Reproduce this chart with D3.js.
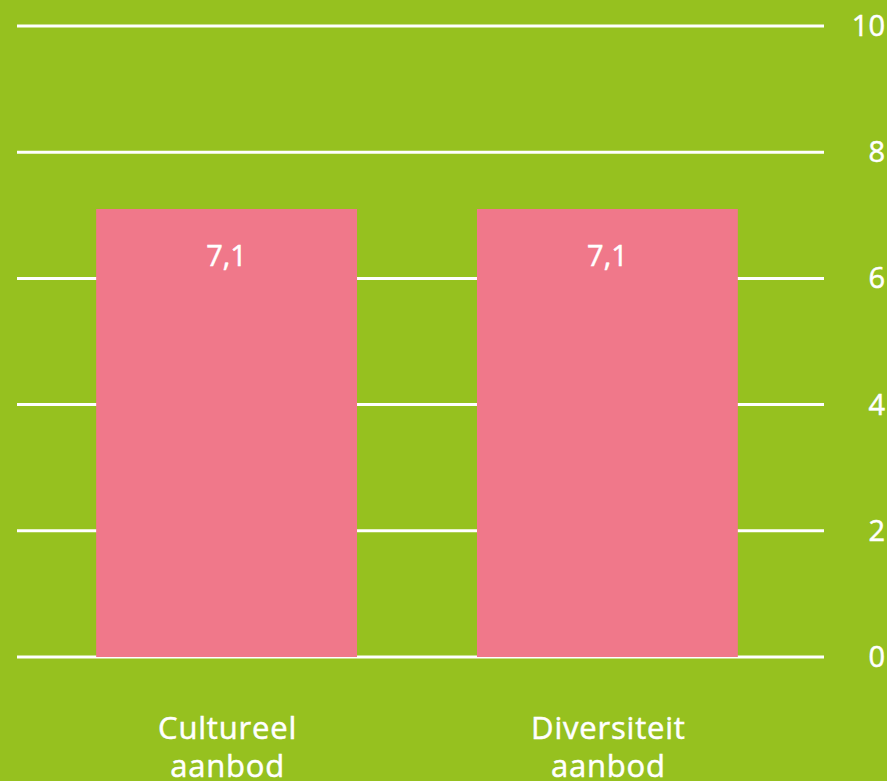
<!DOCTYPE html>
<html><head><meta charset="utf-8">
<script src="https://cdn.jsdelivr.net/npm/d3@7"></script>
<style>html,body{margin:0;padding:0;background:#96c11f;}svg{display:block;}</style>
</head><body><svg id="c" width="887" height="781"></svg>
<script>
const categories = [["Cultureel","aanbod"],["Diversiteit","aanbod"]];
const values = [7.1, 7.1];
const valueLabels = ["7,1","7,1"];
const ticks = [0,2,4,6,8,10];

const svg = d3.select("#c");
const W = 887, H = 781;
svg.append("rect").attr("width",W).attr("height",H).attr("fill","#96c11f");
const font = "'Open Sans', Roboto, sans-serif";
const y = d3.scaleLinear().domain([0,10]).range([657,26]);
const x = d3.scaleBand().domain(d3.range(categories.length)).range([20,814]).paddingInner(0.315).paddingOuter(0.2);

const grid = svg.append("g");
grid.selectAll("line").data(ticks).join("line")
  .attr("x1",17).attr("x2",824).attr("y1",d=>y(d)).attr("y2",d=>y(d))
  .attr("stroke","#fff").attr("stroke-width",3);

svg.append("g").selectAll("rect").data(values).join("rect")
  .attr("x",(d,i)=>x(i)).attr("width",x.bandwidth())
  .attr("y",d=>y(d)).attr("height",d=>y(0)-y(d)).attr("fill","#f0788a");

svg.append("g").selectAll("text").data(values).join("text")
  .attr("x",(d,i)=>x(i)+x.bandwidth()/2).attr("y",d=>y(d)+57)
  .attr("text-anchor","middle").attr("fill","#fff").attr("stroke","#fff").attr("stroke-width",0.5)
  .attr("font-family",font).attr("font-size",29)
  .text((d,i)=>valueLabels[i]);

svg.append("g").selectAll("text").data(ticks).join("text")
  .attr("x",885).attr("y",d=>y(d)+10).attr("text-anchor","end")
  .attr("fill","#fff").attr("stroke","#fff").attr("stroke-width",0.5)
  .attr("font-family",font).attr("font-size",29).text(d=>d);

const cl = svg.append("g").selectAll("text").data(categories).join("text")
  .attr("x",(d,i)=>x(i)+x.bandwidth()/2+1).attr("y",739)
  .attr("text-anchor","middle").attr("fill","#fff").attr("stroke","#fff").attr("stroke-width",0.5)
  .attr("font-family",font).attr("font-size",31).attr("letter-spacing",0.8);
cl.selectAll("tspan").data(d=>d).join("tspan")
  .attr("x",function(){return this.parentNode.getAttribute("x");})
  .attr("dy",(d,i)=>i?38:0).text(d=>d);
</script></body></html>
